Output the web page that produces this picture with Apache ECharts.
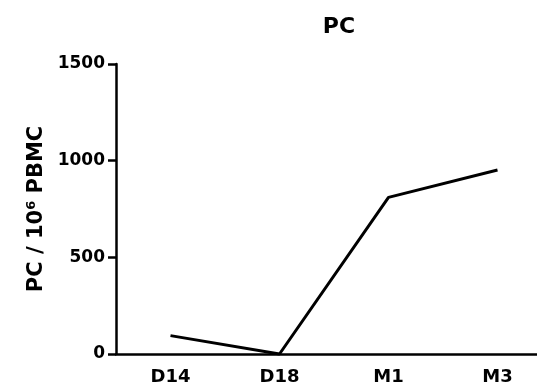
<!DOCTYPE html>
<html>
<head>
<meta charset="utf-8">
<script src="https://cdn.jsdelivr.net/npm/echarts@6/dist/echarts.min.js"></script>
<style>
  html, body { margin: 0; padding: 0; background: #fff; }
  #chart { width: 537px; height: 392px; }
</style>
</head>
<body>
<div id="chart"></div>
<script>
// Plasma cell counts per million PBMC at each time point
const categories = ['D14', 'D18', 'M1', 'M3'];
const pcValues = [95, 0, 810, 952];
const yTicks = { min: 0, max: 1500, interval: 500 };

const FONT = 'DejaVu Sans';
const chart = echarts.init(document.getElementById('chart'), null, { renderer: 'canvas' });

chart.setOption({
  animation: false,
  backgroundColor: '#ffffff',
  title: {
    text: 'PC',
    left: 334,
    top: 11,
    textAlign: 'center',
    textStyle: { fontFamily: FONT, fontWeight: 'bold', fontSize: 22, color: '#000' }
  },
  grid: {
    left: 116, top: 64, width: 436, height: 290,
    outerBoundsMode: 'none',
    containLabel: false
  },
  xAxis: {
    type: 'category',
    data: categories,
    boundaryGap: true,
    axisLine: { lineStyle: { color: '#000', width: 2.5 } },
    axisTick: { alignWithLabel: true, length: 8, lineStyle: { color: '#000', width: 2.5 } },
    axisLabel: { margin: 14, color: '#000', fontFamily: FONT, fontWeight: 'bold', fontSize: 18 },
    splitLine: { show: false }
  },
  yAxis: {
    type: 'value',
    min: yTicks.min,
    max: yTicks.max,
    interval: yTicks.interval,
    name: '{a|PC / 10}{s|6}{a| PBMC}',
    nameLocation: 'middle',
    nameRotate: 90,
    nameGap: 68,
    nameTextStyle: {
      rich: {
        a: { fontFamily: FONT, fontWeight: 'bold', fontSize: 21, color: '#000' },
        s: { fontFamily: FONT, fontWeight: 'bold', fontSize: 13, color: '#000', verticalAlign: 'top', padding: [0, 0, 10, 0] }
      }
    },
    axisLine: { show: true, lineStyle: { color: '#000', width: 2.5 } },
    axisTick: { show: true, length: 8, lineStyle: { color: '#000', width: 2.5 } },
    axisLabel: {
      margin: 11, color: '#000', fontFamily: FONT, fontWeight: 'bold', fontSize: 17,
      formatter: (v) => String(v)
    },
    splitLine: { show: false }
  },
  series: [{
    type: 'line',
    data: pcValues,
    showSymbol: false,
    symbol: 'none',
    lineStyle: { color: '#000', width: 3 },
    clip: false
  }]
});
</script>
</body>
</html>
